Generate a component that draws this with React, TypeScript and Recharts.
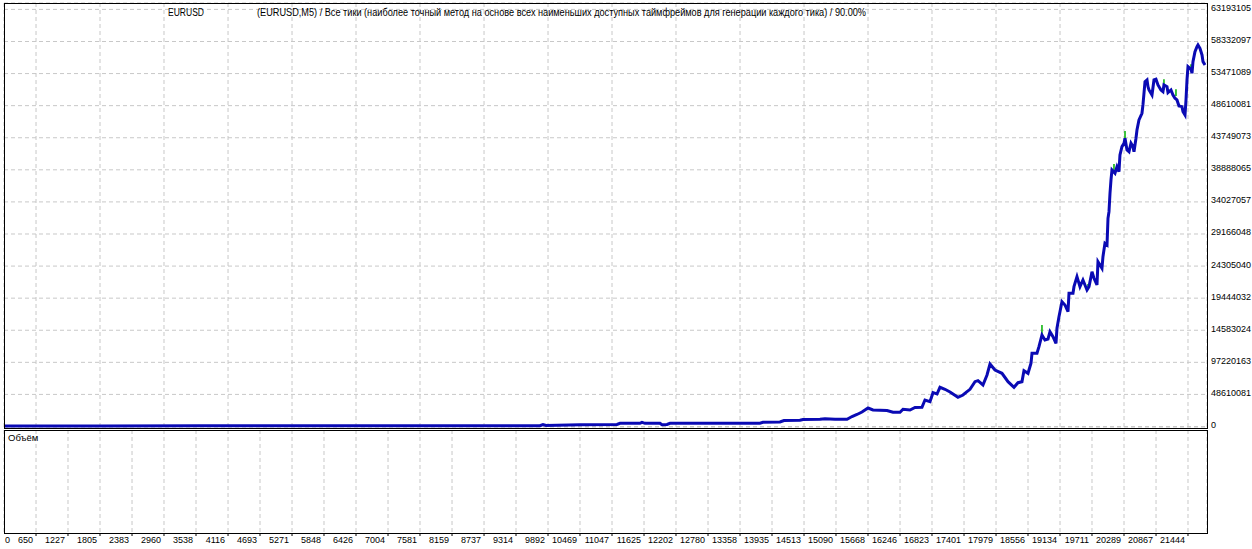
import { LineChart, Line, XAxis, YAxis, CartesianGrid } from 'recharts'

// trade number along the test and balance (millions)
const trades = [
  72, 1805, 3610, 5415, 7220, 9747, 9801, 9856, 10469, 11137, 11191, 11552, 11588, 11642, 11913, 11949,
  12040, 12094, 13718, 13772, 14079, 14151, 14440, 14494, 14801, 14891, 15072, 15289, 15379, 15469, 15559,
  15668, 15758, 16011, 16119, 16245, 16300, 16426, 16516, 16642, 16696, 16787, 16841, 16913, 16967, 17057,
  17148, 17292, 17382, 17455, 17509, 17599, 17653, 17743, 17816, 17870, 17960, 18086, 18195, 18303, 18375,
  18447, 18483, 18556, 18610, 18628, 18718, 18754, 18808, 18862, 18917, 18953, 19007, 19061, 19079, 19115,
  19169, 19223, 19278, 19296, 19368, 19386, 19440, 19494, 19548, 19621, 19657, 19711, 19747, 19801, 19819,
  19891, 19909, 19945, 19982, 20000, 20018, 20036, 20054, 20072, 20126, 20162, 20198, 20216, 20252, 20289,
  20307, 20343, 20379, 20415, 20451, 20469, 20505, 20523, 20559, 20613, 20631, 20668, 20704, 20722, 20740,
  20794, 20830, 20866, 20902, 20956, 20992, 21010, 21065, 21083, 21137, 21173, 21209, 21245, 21281, 21335,
  21354, 21390, 21408, 21426, 21444, 21498, 21516, 21534, 21570, 21606, 21624, 21660, 21697, 21715, 21751,
]

const balance = [
  0.076, 0.076, 0.106, 0.106, 0.106, 0.121, 0.303, 0.152, 0.273, 0.303, 0.485, 0.485, 0.636, 0.485, 0.485, 0.273,
  0.303, 0.485, 0.5, 0.636, 0.682, 0.909, 0.939, 1.061, 1.091, 1.167, 1.091, 1.106, 1.515, 1.818, 2.197,
  2.803, 2.5, 2.424, 2.152, 2.152, 2.606, 2.5, 2.879, 2.909, 4.015, 3.758, 5.122, 4.925, 5.94, 5.637,
  5.228, 4.425, 4.773, 5.273, 5.637, 6.789, 6.94, 6.288, 7.804, 9.471, 8.561, 8.061, 6.789, 5.94, 6.637,
  6.789, 8.455, 8.061, 9.577, 11.092, 11.092, 12.092, 13.865, 13.107, 13.259, 14.365, 13.607, 12.607, 14.88, 16.638,
  18.911, 18.411, 17.395, 20.184, 20.184, 21.184, 22.699, 21.184, 22.199, 20.684, 21.184, 23.457, 22.456, 21.441, 24.972,
  23.972, 25.729, 27.76, 27.502, 31.548, 32.548, 35.336, 37.352, 38.867, 38.367, 39.367, 38.61, 41.14, 42.398, 42.913,
  43.671, 41.898, 41.64, 42.913, 42.398, 41.64, 43.671, 44.929, 46.444, 47.459, 48.716, 52.246, 52.504, 51.489, 50.989,
  50.231, 52.504, 52.61, 51.746, 50.989, 50.731, 51.746, 51.489, 50.58, 50.989, 50.231, 49.732, 49.474, 48.564, 48.458,
  47.701, 47.201, 49.474, 52.504, 54.52, 54.126, 53.52, 55.277, 56.792, 57.55, 57.808, 57.308, 56.292, 55.277, 54.777,
]

// equity excursions shown in green
const spikeTrades = [18808, 19639, 20108, 20307, 21010, 21227, 21498]
const spikeLow = [13.865, 21.138, 38.564, 42.959, 50.989, 50.08, 54.02]
const spikeHigh = [15.38, 21.593, 39.777, 44.777, 52.61, 51.09, 54.88]

const xTicks = [
  72, 650, 1227, 1805, 2383, 2960, 3538, 4116, 4693, 5271, 5848, 6426, 7004, 7581, 8159, 8737, 9314, 9892,
  10469, 11047, 11625, 12202, 12780, 13358, 13935, 14513, 15090, 15668, 16246, 16823, 17401, 17979, 18556,
  19134, 19711, 20289, 20867, 21444,
]
const xTickLabels = xTicks.map((t, i) => (i === 0 ? '0' : String(t)))

const yTicks = [
  0, 4.861008, 9.722016, 14.583024, 19.444032, 24.30504, 29.166048, 34.027057, 38.888065, 43.749073,
  48.610081, 53.471089, 58.332097, 63.193105,
]
const yTickLabels = [
  '0', '48610081', '97220163', '14583024', '19444032', '24305040', '29166048', '34027057', '38888065',
  '43749073', '48610081', '53471089', '58332097', '63193105',
]

const chartData = trades.map((t, i) => ({ trade: t, balance: balance[i] }))
const spikes = spikeTrades.map((t, i) => [
  { trade: t, v: spikeLow[i] },
  { trade: t, v: spikeHigh[i] },
])

const FONT = '"Liberation Sans", Arial, sans-serif'
const GRID = '#c8c8c8'

const YTick = (props: any) => {
  const { y, index } = props
  return (
    <text x={1211} y={y + 1.5} fontSize={9} fontFamily={FONT} fill="#000" textAnchor="start">
      {yTickLabels[index]}
    </text>
  )
}

const XTick = (props: any) => {
  const { x, y, index } = props
  const first = index === 0
  return (
    <g>
      {!first && <line x1={x} x2={x} y1={y} y2={y + 3} stroke="#000" />}
      <text
        x={first ? 5 : x - 3}
        y={y + 10}
        fontSize={9}
        fontFamily={FONT}
        fill="#000"
        textAnchor={first ? 'start' : 'end'}
      >
        {xTickLabels[index]}
      </text>
    </g>
  )
}

const App = () => {
  return (
    <div style={{ position: 'absolute', left: 0, top: 0, width: 1252, height: 549, background: '#fff' }}>
      <div style={{ position: 'absolute', left: 0, top: 0 }}>
        <LineChart width={1252} height={429} data={chartData} margin={{ top: 3, right: 0, bottom: 1, left: 4 }}>
          <CartesianGrid stroke={GRID} strokeDasharray="4 3" />
          <XAxis dataKey="trade" type="number" domain={[72, 21787]} ticks={xTicks} hide />
          <YAxis
            orientation="right"
            width={45}
            type="number"
            domain={[-0.227, 64.163]}
            ticks={yTicks}
            tick={YTick}
            axisLine={false}
            tickLine={false}
            interval={0}
          />
          {spikes.map((s, i) => (
            <Line
              key={i}
              data={s}
              dataKey="v"
              stroke="#00b000"
              strokeWidth={1.5}
              dot={false}
              type="linear"
              isAnimationActive={false}
            />
          ))}
          <Line
            dataKey="balance"
            stroke="#0a0ab4"
            strokeWidth={3}
            dot={false}
            type="linear"
            isAnimationActive={false}
          />
        </LineChart>
      </div>
      <div style={{ position: 'absolute', left: 0, top: 429 }}>
        <LineChart width={1252} height={120} data={chartData} margin={{ top: 1, right: 45, bottom: 0, left: 4 }}>
          <CartesianGrid stroke={GRID} strokeDasharray="4 3" horizontal={false} />
          <XAxis
            dataKey="trade"
            type="number"
            domain={[72, 21787]}
            ticks={xTicks}
            interval={0}
            height={16}
            axisLine={false}
            tickLine={false}
            tickSize={0}
            tickMargin={0}
            tick={XTick}
          />
          <YAxis hide domain={[0, 1]} />
        </LineChart>
      </div>
      <div
        style={{
          position: 'absolute', left: 4, top: 3, width: 1204, height: 426,
          border: '1px solid #000', boxSizing: 'border-box', pointerEvents: 'none',
        }}
      />
      <div
        style={{
          position: 'absolute', left: 4, top: 430, width: 1204, height: 104,
          border: '1px solid #000', boxSizing: 'border-box', pointerEvents: 'none',
        }}
      />
      <svg width={1252} height={549} style={{ position: 'absolute', left: 0, top: 0, pointerEvents: 'none' }}>
        <text x={168} y={16} fontSize={10} fontFamily={FONT} fill="#000" textLength={36} lengthAdjust="spacingAndGlyphs">
          EURUSD
        </text>
        <text x={257} y={16} fontSize={10} fontFamily={FONT} fill="#000" textLength={609} lengthAdjust="spacingAndGlyphs">
          (EURUSD,M5) / Все тики (наиболее точный метод на основе всех наименьших доступных таймфреймов для генерации каждого тика) / 90.00%
        </text>
        <text x={8} y={441} fontSize={9.5} fontFamily={FONT} fill="#000">
          Объём
        </text>
      </svg>
    </div>
  )
}

export default App
